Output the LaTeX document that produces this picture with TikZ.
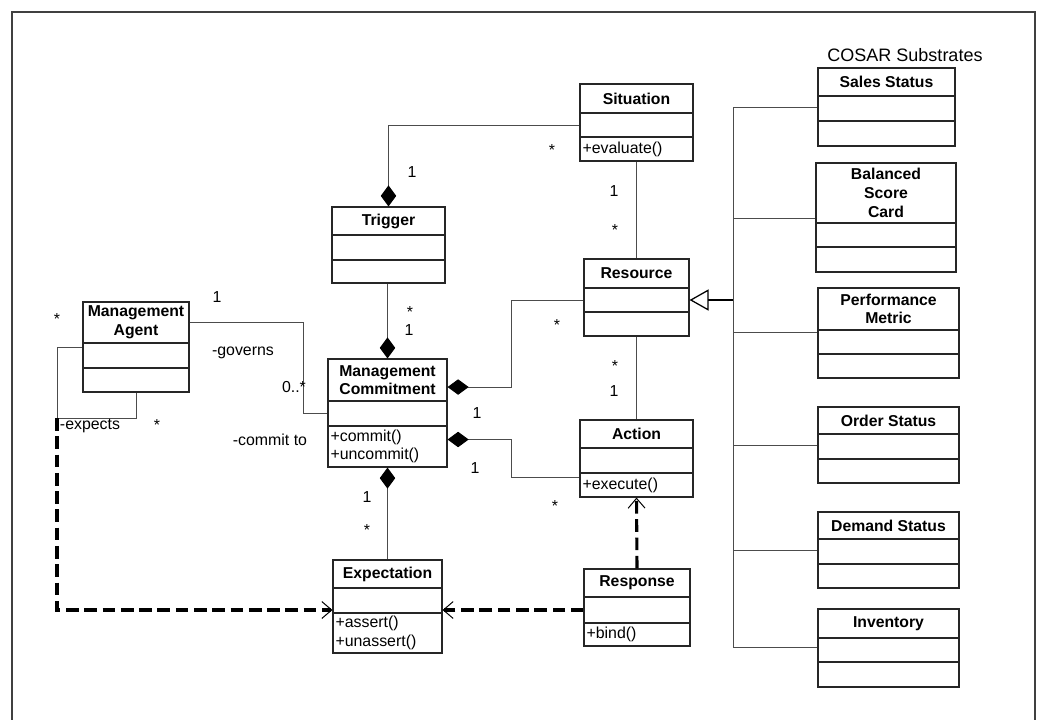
\documentclass[tikz,border=0pt]{standalone}
\usepackage{fontspec}
\setmainfont{Liberation Sans}
\usetikzlibrary{arrows.meta,fit}

\begin{document}
\begin{tikzpicture}[x=0.025cm, y=-0.025cm]
    % common styles
    \tikzstyle{box_part} = [draw=black!85, line width=0.8pt, inner sep=0pt]
    \tikzstyle{text_class} = [align=center, inner sep=0pt, font=\fontsize{11.2}{13.3}\selectfont\bfseries]
    \tikzstyle{text_ops} = [anchor=west, align=left, inner sep=0pt, font=\fontsize{11.3}{13}\selectfont]
    \tikzstyle{text_mult} = [inner sep=0pt, font=\fontsize{11.3}{13}\selectfont]
    \tikzstyle{line_assoc} = [draw=black!70, line width=0.7pt]
    \tikzstyle{line_comp} = [line_assoc, {Diamond[length=15pt,width=11pt,color=black]}-]
    \tikzstyle{line_dep} = [black, line width=2.2pt, dash pattern=on 9pt off 4pt, -{Straight Barb[length=7pt,width=12pt,line width=0.7pt]}]
    \tikzstyle{line_gen} = [black, line width=1.3pt, -{Triangle[open,length=13.5pt,width=15pt,line width=0.9pt]}]

    \useasboundingbox (0,0) rectangle (1038,719);
    \draw[black!75, line width=1.1pt] (12,12) rectangle (1035,740);

    % ================= classes =================
    \foreach \n/\xa/\ya/\xb/\yh/\ym/\yb/\cls/\ops in {
        ma/83/302/189/343/368/392/{Management\\Agent}/{},
        trg/332/207/445/235/260/283/{Trigger}/{},
        mc/328/359/447/401/426/467/{Management\\Commitment}/{+commit()\\+uncommit()},
        sit/580/84/693/113/137/161/{Situation}/{+evaluate()},
        res/584/259/689/288/312/336/{Resource}/{},
        act/580/420/693/448/473/497/{Action}/{+execute()},
        exp/333/560/442/588/613/653/{Expectation}/{+assert()\\+unassert()},
        resp/584/569/690/597/623/646/{Response}/{+bind()}} {
        \node[box_part, fit={(\xa,\ya) (\xb,\yh)}] (\n) {};
        \node[box_part, fit={(\xa,\yh) (\xb,\ym)}] (\n-a) {};
        \node[box_part, fit={(\xa,\ym) (\xb,\yb)}] (\n-o) {};
        \node[text_class] (\n-t) at (\n.center) {\cls};
        \node[text_ops] (\n-m) at ([xshift=2pt]\n-o.west) {\ops};
    }

    % ================= COSAR substrates =================
    \node[font=\fontsize{12.8}{15}\selectfont] (title) at (905,55) {COSAR Substrates};
    \coordinate (bus) at (733,0);
    \foreach \n/\xa/\ya/\xb/\yh/\ym/\yb/\cls/\dy in {
        ss/818/68/955/96/121/146/{Sales Status}/1,
        bsc/816/163/956/223/247/272/{Balanced\\Score\\Card}/12,
        pm/818/288/959/330/354/378/{Performance\\Metric}/6.5,
        os/818/407/959/434/459/483/{Order Status}/1,
        ds/818/512/959/539/564/588/{Demand Status}/1,
        inv/818/609/959/638/662/687/{Inventory}/2} {
        \node[box_part, fit={(\xa,\ya) (\xb,\yh)}] (\n) {};
        \node[box_part, fit={(\xa,\yh) (\xb,\ym)}] (\n-a) {};
        \node[box_part, fit={(\xa,\ym) (\xb,\yb)}] (\n-o) {};
        \node[text_class] (\n-t) at (\n.center) {\cls};
        \coordinate (\n-c) at ([yshift=\dy pt]\n-a.west);
        \draw[line_assoc] (\n-c) -- (\n-c -| bus);
    }
    \draw[line_assoc] (ss-c -| bus) -- (inv-c -| bus);
    \draw[line_gen] (res-a.east -| bus) -- (res-a.east);

    % ================= associations =================
    \draw[line_comp] (trg.north) |- (sit-a.west);
    \draw[line_assoc] (sit-o.south) -- (res.north);
    \draw[line_comp] (mc.north) -- (mc.north |- trg-o.south);
    \draw[line_comp] ([yshift=-5pt]mc.east) -- ++(64,0) |- (res-a.west);
    \draw[line_comp] ([yshift=-10pt]mc-o.north east) -- ++(64,0) |- ([yshift=5pt]act-o.west);
    \draw[line_assoc] (res-o.south) -- (act.north);
    \draw[line_comp] (mc-o.south) -- (exp.north);
    \draw[line_assoc] (ma.east) -- ++(114,0) |- (mc-a.west);
    \coordinate (loop) at (57,418);
    \draw[line_assoc] (ma-o.south) |- (loop) |- ([yshift=6pt]ma-a.west);

    % dependencies (dashed)
    \draw[line_dep] (loop) |- (exp-a.west |- resp-a.west);
    \draw[line_dep] (resp-a.west) -- (exp-a.east |- resp-a.west);
    \draw[line_dep] (resp.north) -- (act-o.south);

    % multiplicities and roles
    \foreach \s/\x/\y [count=\k] in {1/412/172, */552/150, 1/614/191, */615/230,
        */410/312, 1/409/330, */557/325, 1/477/413, 1/475/468, */555/506,
        */615/366, 1/614/391, 1/367/497, */367/530, 1/217/297, 0..*/294/387,
        */57/319, */157/425} {
        \node[text_mult] (m\k) at (\x,\y) {\s};
    }
    \node[text_mult] (governs) at (243,353) {-governs};
    \node[text_mult] (expects) at (90,426) {-expects};
    \node[text_mult] (committo) at (270,440) {-commit to};

\end{tikzpicture}
\end{document}
